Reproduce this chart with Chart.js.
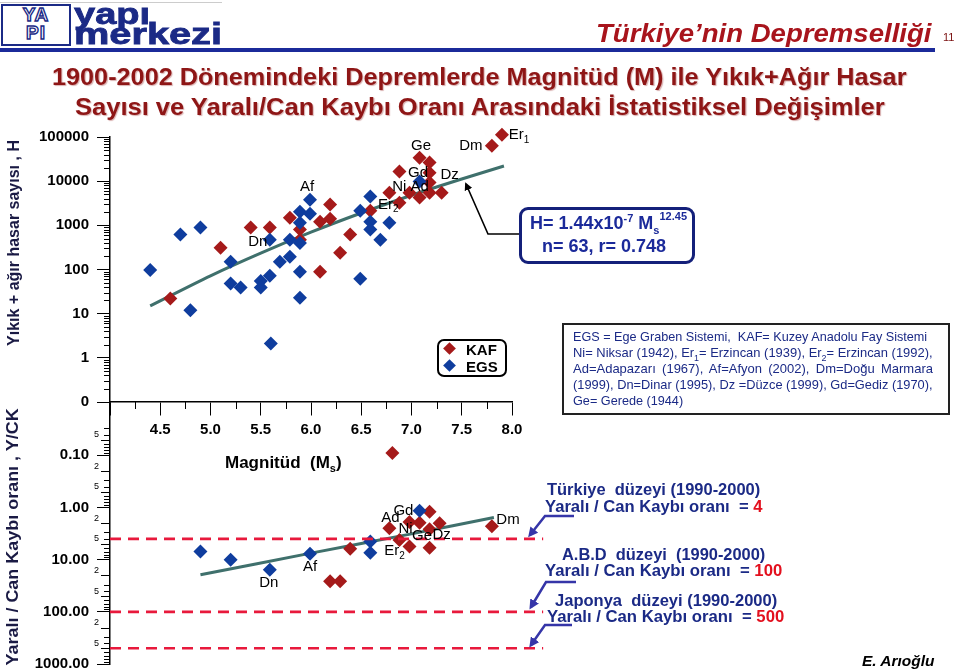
<!DOCTYPE html>
<html><head><meta charset="utf-8">
<script src="https://cdn.jsdelivr.net/npm/chart.js@4.4.1/dist/chart.umd.min.js"></script>
<style>
html,body{margin:0;padding:0;background:#fff}
body{width:959px;height:672px;overflow:hidden;position:relative;font-family:"Liberation Sans",Arial,sans-serif}
canvas#c{position:absolute;left:0;top:0}
.abs{position:absolute;white-space:nowrap;line-height:1}
.fit{display:inline-block;transform-origin:0 50%}
.navy{color:#1b2a86}
.bt{font-weight:bold;font-size:16px;color:#1b2a86}
.red{color:#e3101e}
svg#ov{position:absolute;left:0;top:0}
</style></head><body>
<canvas id="c" width="959" height="672"></canvas>

<!-- header -->
<div class="abs" style="left:0;top:2px;width:222px;height:1px;background:#ccc"></div>
<div class="abs" style="left:1px;top:4px;width:66px;height:38px;border:2px solid #1b2a86;background:#fff;text-align:center;font-weight:900;font-size:19px;line-height:18px;color:#fff;-webkit-text-stroke:1.4px #1b2a86;letter-spacing:1px">YA<br>PI</div>
<div class="abs" style="left:74px;top:0px;font-weight:bold;font-size:29px;color:#1b2a86;-webkit-text-stroke:0.8px #1b2a86"><span class="fit" data-w="76">yapı</span></div>
<div class="abs" style="left:74px;top:20px;font-weight:bold;font-size:29px;color:#1b2a86;-webkit-text-stroke:0.8px #1b2a86"><span class="fit" data-w="148">merkezi</span></div>
<div class="abs" style="left:0;top:48px;width:935px;height:4px;background:#1b2a9a"></div>
<div class="abs" style="left:596px;top:20px;font-weight:bold;font-style:italic;font-size:26px;color:#a8141c"><span class="fit" data-w="335">Türkiye’nin Depremselliği</span></div>
<div class="abs" style="left:943px;top:32px;font-size:11px;color:#7a1010">11</div>

<!-- title -->
<div class="abs" style="left:52px;top:65px;font-weight:bold;font-size:24px;color:#8e1616;text-shadow:1px 1px 1px #d9b0b0"><span class="fit" data-w="855">1900-2002 Dönemindeki Depremlerde Magnitüd (M) ile Yıkık+Ağır Hasar</span></div>
<div class="abs" style="left:75px;top:95px;font-weight:bold;font-size:24px;color:#8e1616;text-shadow:1px 1px 1px #d9b0b0"><span class="fit" data-w="810">Sayısı ve Yaralı/Can Kaybı Oranı Arasındaki  İstatistiksel Değişimler</span></div>

<!-- y titles -->
<div class="abs" style="left:14px;top:243px;font-weight:bold;font-size:16px;color:#1a1a44;transform:translate(-50%,-50%) rotate(-90deg)">Yıkık + ağır hasar sayısı , H</div>
<div class="abs" style="left:14px;top:537px;width:257px;height:18px;transform:translate(-50%,-50%) rotate(-90deg)"><span class="fit" data-w="257" style="font-weight:bold;font-size:16px;color:#1a1a44">Yaralı / Can Kaybı oranı , Y/CK</span></div>

<!-- x title -->
<div class="abs" style="left:225px;top:454px;font-weight:bold;font-size:17px;color:#000">Magnitüd&nbsp; (M<sub style="font-size:11px">s</sub>)</div>

<!-- legend -->
<div class="abs" style="left:437px;top:339px;width:66px;height:34px;border:2px solid #000;border-radius:7px;background:#fff"></div>
<div class="abs" style="left:445px;top:344px;width:9px;height:9px;background:#a51a1a;transform:rotate(45deg)"></div>
<div class="abs" style="left:445px;top:361px;width:9px;height:9px;background:#0f3d9e;transform:rotate(45deg)"></div>
<div class="abs" style="left:466px;top:342px;font-weight:bold;font-size:15px">KAF</div>
<div class="abs" style="left:466px;top:359px;font-weight:bold;font-size:15px">EGS</div>

<!-- formula box -->
<div class="abs" style="left:519px;top:207px;width:170px;height:51px;border:3px solid #14207a;border-radius:9px;background:#fff"></div>
<div class="abs" style="left:530px;top:213px;font-weight:bold;font-size:18px;color:#1b2a9a">H= 1.44x10<sup style="font-size:11px">-7</sup> M<sub style="font-size:11px">s</sub><sup style="font-size:11px;position:relative;top:-2px">12.45</sup></div>
<div class="abs" style="left:542px;top:237px;font-weight:bold;font-size:18px;color:#1b2a9a">n= 63, r= 0.748</div>

<!-- definitions box -->
<div class="abs" style="left:562px;top:323px;width:384px;height:88px;border:2px solid #222;background:#fff"></div>
<div class="abs navy" style="left:573px;top:330px;font-size:13px"><span class="fit" data-w="354">EGS = Ege Graben Sistemi,&nbsp; KAF= Kuzey Anadolu Fay Sistemi</span></div>
<div class="abs navy" style="left:573px;top:346px;font-size:13px"><span class="fit" data-w="360">Ni= Niksar (1942), Er<sub style="font-size:9px">1</sub>= Erzincan (1939), Er<sub style="font-size:9px">2</sub>= Erzincan (1992),</span></div>
<div class="abs navy" style="left:573px;top:362px;font-size:13px;width:360px;text-align:justify;text-align-last:justify">Ad=Adapazarı (1967), Af=Afyon (2002), Dm=Doğu Marmara</div>
<div class="abs navy" style="left:573px;top:378px;font-size:13px"><span class="fit" data-w="360">(1999), Dn=Dinar (1995), Dz =Düzce (1999), Gd=Gediz (1970),</span></div>
<div class="abs navy" style="left:573px;top:394px;font-size:13px"><span class="fit" data-w="110">Ge= Gerede (1944)</span></div>

<!-- levels text -->
<div class="abs bt" style="left:547px;top:482px"><span class="fit" data-w="213">Türkiye&nbsp; düzeyi (1990-2000)</span></div>
<div class="abs bt" style="left:545px;top:499px"><span class="fit" data-w="217">Yaralı / Can Kaybı oranı&nbsp; = <span class="red">4</span></span></div>
<div class="abs bt" style="left:562px;top:547px"><span class="fit" data-w="203">A.B.D&nbsp; düzeyi&nbsp; (1990-2000)</span></div>
<div class="abs bt" style="left:545px;top:563px"><span class="fit" data-w="237">Yaralı / Can Kaybı oranı&nbsp; = <span class="red">100</span></span></div>
<div class="abs bt" style="left:555px;top:593px"><span class="fit" data-w="222">Japonya&nbsp; düzeyi (1990-2000)</span></div>
<div class="abs bt" style="left:547px;top:609px"><span class="fit" data-w="237">Yaralı / Can Kaybı oranı&nbsp; = <span class="red">500</span></span></div>
<div class="abs" style="left:862px;top:654px;font-weight:bold;font-style:italic;font-size:14px;color:#000"><span class="fit" data-w="73">E. Arıoğlu</span></div>

<svg id="ov" width="959" height="672">
  <defs>
    <marker id="ab" markerWidth="8" markerHeight="8" refX="6" refY="4" orient="auto" markerUnits="userSpaceOnUse"><path d="M0,0 L8,4 L0,8 z" fill="#000"/></marker>
    <marker id="ablue" markerWidth="10" markerHeight="10" refX="7" refY="5" orient="auto" markerUnits="userSpaceOnUse"><path d="M0,0 L10,5 L0,10 z" fill="#3535a8"/></marker>
  </defs>
  <polyline points="519,234 488,234 466,184" fill="none" stroke="#000" stroke-width="1.6" marker-end="url(#ab)"/>
  <polyline points="574,516 545,516 530,535" fill="none" stroke="#3535a8" stroke-width="2.5" marker-end="url(#ablue)"/>
  <polyline points="576,582 546,582 531,607" fill="none" stroke="#3535a8" stroke-width="2.5" marker-end="url(#ablue)"/>
  <polyline points="572,625 545,625 531,645" fill="none" stroke="#3535a8" stroke-width="2.5" marker-end="url(#ablue)"/>
</svg>

<script>
// ---------------- data ----------------
const hTickValues = [0.1, 1, 10, 100, 1000, 10000, 100000];
const hTickLabels = ['0', '1', '10', '100', '1000', '10000', '100000'];
const rTickValues = [0.1, 1, 10, 100, 1000];
const rTickLabels = ['0.10', '1.00', '10.00', '100.00', '1000.00'];
const rMinorValues = [0.05, 0.2, 0.5, 2, 5, 20, 50, 200, 500];
const rMinorLabels = ['5', '2', '5', '2', '5', '2', '5', '2', '5'];

// upper panel: number of collapsed + heavily damaged buildings (H)
const egsUpperM = [4.40, 4.70, 4.90, 4.80, 5.20, 5.20, 5.30, 5.50, 5.50, 5.59, 5.59, 5.69, 5.79, 5.79, 5.89, 5.89, 5.89, 5.89, 5.89, 5.99, 5.99, 6.49, 6.49, 6.59, 6.59, 6.59, 6.69, 6.78, 7.08, 5.60];
const egsUpperH = [98, 620, 890, 12, 150, 48, 39, 55, 39, 72, 470, 150, 195, 470, 89, 23, 400, 1150, 2040, 3800, 1820, 2140, 62, 4470, 1200, 800, 470, 1150, 9800, 2.1];
const kafUpperM = [4.60, 5.10, 5.40, 5.59, 5.79, 5.89, 5.89, 6.09, 6.19, 6.19, 6.09, 6.29, 6.39, 6.59, 6.78, 6.88, 6.88, 6.98, 7.08, 7.08, 7.18, 7.18, 7.18, 7.18, 7.30, 7.80, 7.90];
const kafUpperH = [22, 310, 890, 890, 1480, 800, 470, 1200, 2950, 1410, 89, 240, 620, 2140, 5500, 16600, 3240, 5500, 34000, 4270, 26300, 15500, 9300, 5500, 5500, 63000, 112000];
const fitUpperM = [4.40, 5.00, 5.50, 6.00, 6.50, 7.00, 7.50, 7.92];
const fitUpperH = [15, 72, 235, 700, 1900, 4800, 11200, 22000];

// lower panel: injured / fatality ratio (Y/CK)
const egsLowerM = [4.90, 5.20, 5.59, 5.99, 6.59, 6.59, 7.08];
const egsLowerR = [7.0, 10, 15.6, 7.7, 4.5, 7.4, 1.15];
const kafLowerM = [6.19, 6.29, 6.39, 6.78, 6.88, 6.98, 6.98, 7.08, 7.18, 7.18, 7.18, 7.28, 7.80, 6.81];
const kafLowerR = [26, 26, 6.2, 2.5, 4.2, 1.9, 5.6, 1.95, 1.2, 2.6, 5.9, 2.0, 2.3, 0.09];
const fitLowerM = [4.90, 6.00, 7.00, 7.82];
const fitLowerR = [19.5, 7.5, 3.2, 1.55];

// reference levels (Türkiye, A.B.D, Japonya)
const levelValues = [4, 100, 500];
const levelRangeM = [4.0, 8.31];

// earthquake name labels: text ("|" = subscript), magnitude, value
const upperLabelText = ['Ge', 'Dm', 'Er|1', 'Gd', 'Dz', 'Ni Ad', 'Er|2', 'Af', 'Dn'];
const upperLabelM = [7.095, 7.59, 8.07, 7.065, 7.38, 6.99, 6.77, 5.96, 5.47];
const upperLabelH = [63800, 63800, 112000, 15500, 14000, 7500, 2950, 7500, 427];
const lowerLabelText = ['Gd', 'Ad', 'Ni', 'Ge', 'Dz', 'Er|2', 'Dm', 'Af', 'Dn'];
const lowerLabelM = [6.92, 6.79, 6.94, 7.105, 7.30, 6.83, 7.96, 5.99, 5.58];
const lowerLabelR = [1.14, 1.6, 2.6, 3.5, 3.3, 6.8, 1.7, 14, 27.5];

// ---------------- chart ----------------
const RED = '#a51a1a', BLUE = '#0f3d9e', FIT = '#3f706c', LEVEL = '#e8193c';
const FONT = 'Liberation Sans';
const zip = (a, b) => a.map((v, i) => ({x: v, y: b[i]}));

function pointDs(label, m, v, axis, color) {
  return {type: 'scatter', label, data: zip(m, v), yAxisID: axis, backgroundColor: color, borderColor: color,
    borderWidth: 0, pointStyle: 'rectRot', pointRadius: 7, pointHoverRadius: 7, clip: false};
}
function lineDs(m, v, axis, color, width, dash) {
  return {type: 'line', data: zip(m, v), yAxisID: axis, borderColor: color, borderWidth: width, borderDash: dash || [],
    pointRadius: 0, tension: dash ? 0 : 0.3, fill: false, clip: false};
}

const datasets = [
  ...levelValues.map(v => lineDs(levelRangeM, [v, v], 'y2', LEVEL, 2.6, [11, 7])),
  pointDs('EGS', egsUpperM, egsUpperH, 'y', BLUE),
  pointDs('KAF', kafUpperM, kafUpperH, 'y', RED),
  lineDs(fitUpperM, fitUpperH, 'y', FIT, 3),
  pointDs('EGS', egsLowerM, egsLowerR, 'y2', BLUE),
  pointDs('KAF', kafLowerM, kafLowerR, 'y2', RED),
  lineDs(fitLowerM, fitLowerR, 'y2', FIT, 3),
];

const decoPlugin = {
  id: 'deco',
  afterDraw(chart) {
    const {ctx} = chart;
    const yH = chart.scales.y, yR = chart.scales.y2, xs = chart.scales.x;
    const ax = yH.right;
    ctx.save();
    ctx.strokeStyle = '#000'; ctx.lineWidth = 1;
    ctx.beginPath();
    for (let e = -1; e < 5; e++) for (let k = 2; k < 10; k++) {
      const p = Math.round(yH.getPixelForValue(k * Math.pow(10, e))) + 0.5;
      ctx.moveTo(ax - 6, p); ctx.lineTo(ax, p);
    }
    for (let e = -2; e < 3; e++) for (let k = 2; k < 10; k++) {
      const v = k * Math.pow(10, e); if (v < 0.03) continue;
      const p = Math.round(yR.getPixelForValue(v)) + 0.5;
      ctx.moveTo(ax - 6, p); ctx.lineTo(ax, p);
    }
    const base = yH.getPixelForValue(0.1);
    for (let m = 4.25; m < 8; m += 0.5) {
      const px = Math.round(xs.getPixelForValue(m)) + 0.5;
      ctx.moveTo(px, base); ctx.lineTo(px, base + 7);
    }
    rMinorValues.forEach(v => {
      const p = Math.round(yR.getPixelForValue(v)) + 0.5;
      ctx.moveTo(ax - 9, p); ctx.lineTo(ax, p);
    });
    ctx.stroke();
    ctx.fillStyle = '#000'; ctx.font = '9px ' + FONT; ctx.textAlign = 'right'; ctx.textBaseline = 'middle';
    rMinorValues.forEach((v, i) => ctx.fillText(rMinorLabels[i], ax - 11, yR.getPixelForValue(v) - 5));
    // earthquake labels
    ctx.textAlign = 'left';
    const drawLab = (t, px, py) => {
      const [main, sub] = t.split('|');
      ctx.font = '15px ' + FONT;
      const w1 = ctx.measureText(main).width;
      ctx.font = '10px ' + FONT;
      const w2 = sub ? ctx.measureText(sub).width : 0;
      const x0 = px - (w1 + w2) / 2;
      ctx.font = '15px ' + FONT; ctx.fillText(main, x0, py);
      if (sub) { ctx.font = '10px ' + FONT; ctx.fillText(sub, x0 + w1, py + 5); }
    };
    upperLabelText.forEach((t, i) => drawLab(t, xs.getPixelForValue(upperLabelM[i]), yH.getPixelForValue(upperLabelH[i])));
    lowerLabelText.forEach((t, i) => drawLab(t, xs.getPixelForValue(lowerLabelM[i]), yR.getPixelForValue(lowerLabelR[i])));
    ctx.restore();
  }
};

const tickFont = {family: FONT, size: 15, weight: 'bold'};
new Chart(document.getElementById('c'), {
  data: {datasets},
  options: {
    responsive: false, animation: false, devicePixelRatio: 1,
    layout: {padding: {top: 137, bottom: 8, left: 0, right: 447}},
    plugins: {legend: {display: false}, tooltip: {enabled: false}},
    scales: {
      x: {
        type: 'linear', min: 4, max: 8, position: {y: 0.1},
        ticks: {stepSize: 0.5, color: '#000', font: tickFont, padding: 6,
          callback: v => v >= 4.5 ? v.toFixed(1) : ''},
        grid: {drawOnChartArea: false, tickLength: 13, color: '#000', tickWidth: 1},
        border: {color: '#000', width: 1.5}
      },
      y2: {
        type: 'logarithmic', min: 0.0095, max: 1000, reverse: true, position: 'left',
        stack: 'v', stackWeight: 262,
        afterBuildTicks: s => { s.ticks = rTickValues.map(v => ({value: v})); },
        afterFit: s => { s.width = 110; s.paddingTop = 0; s.paddingBottom = 0; },
        ticks: {color: '#000', font: tickFont, padding: 8, autoSkip: false,
          callback: (v, i) => rTickLabels[i]},
        grid: {drawOnChartArea: false, tickLength: 13, color: '#000'},
        border: {color: '#000', width: 1.5}
      },
      y: {
        type: 'logarithmic', min: 0.1, max: 100000, position: 'left',
        stack: 'v', stackWeight: 265,
        afterBuildTicks: s => { s.ticks = hTickValues.map(v => ({value: v})); },
        afterFit: s => { s.width = 110; s.paddingTop = 0; s.paddingBottom = 0; },
        ticks: {color: '#000', font: tickFont, padding: 8, autoSkip: false,
          callback: (v, i) => hTickLabels[i]},
        grid: {drawOnChartArea: false, tickLength: 13, color: '#000'},
        border: {color: '#000', width: 1.5}
      }
    }
  },
  plugins: [decoPlugin]
});

// fit text widths to the reference (offsetWidth ignores transforms)
document.querySelectorAll('.fit').forEach(el => {
  const w = el.offsetWidth;
  const target = parseFloat(el.dataset.w);
  if (w > 0) el.style.transform = 'scaleX(' + (target / w) + ')';
});
</script>
</body></html>
